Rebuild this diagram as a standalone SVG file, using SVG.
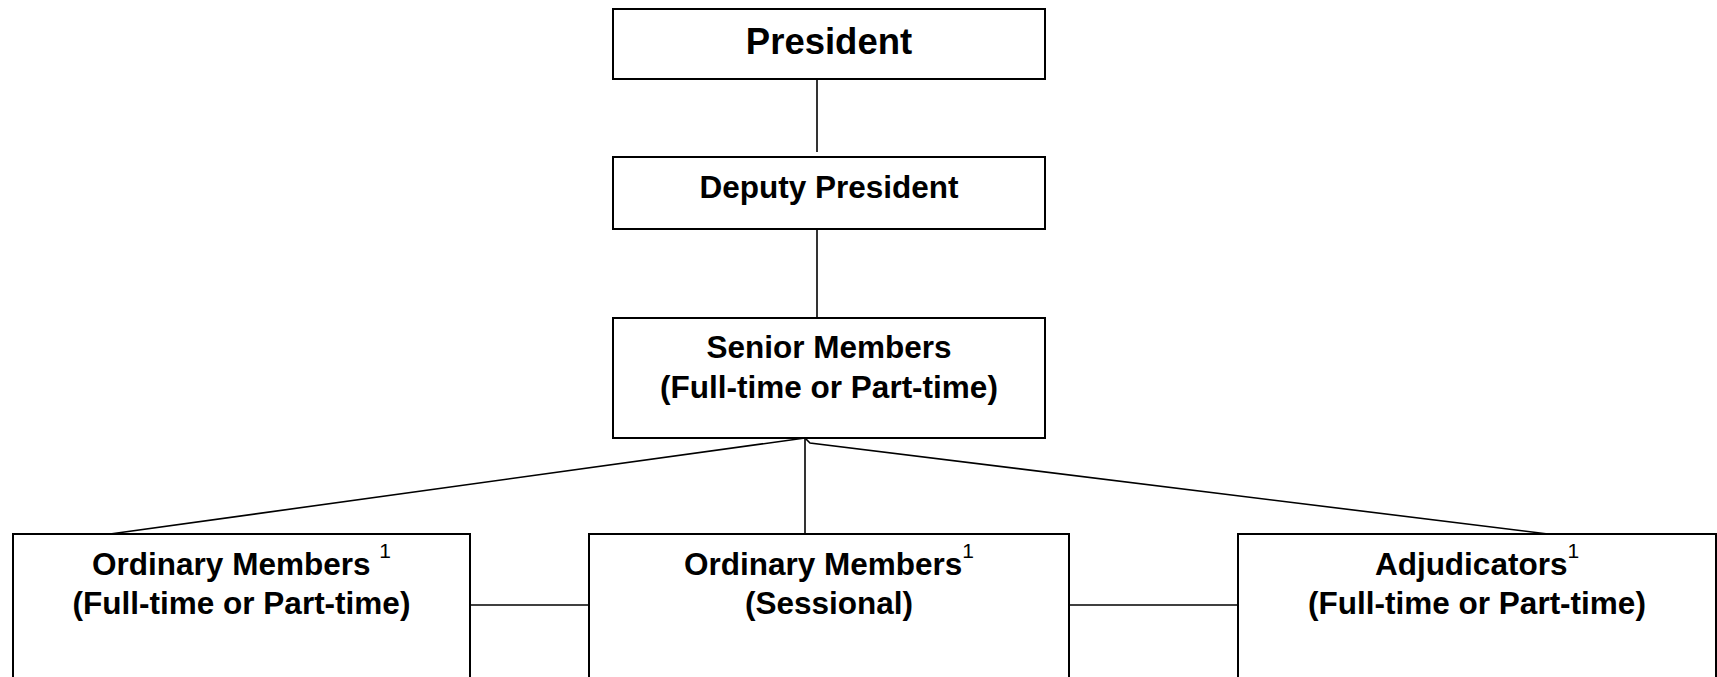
<svg xmlns="http://www.w3.org/2000/svg" width="1717" height="677" viewBox="0 0 1717 677">
<style>
.box{fill:#fff;stroke:#000;stroke-width:2}
.t{font-family:"Liberation Sans",Arial,sans-serif;font-weight:bold;font-size:31.5px;fill:#000;text-anchor:middle}
.sup{font-family:"Liberation Sans",Arial,sans-serif;font-weight:normal;font-size:21px}
.c{fill:none;stroke:#000;stroke-width:1.6}
</style>
<rect width="1717" height="677" fill="#fff"/>
<g id="connectors">
<line class="c" x1="817" y1="79" x2="817" y2="152"/>
<line class="c" x1="817" y1="229" x2="817" y2="318"/>
<line class="c" x1="805" y1="438" x2="110" y2="534"/>
<line class="c" x1="805" y1="438" x2="805" y2="534"/>
<polyline class="c" points="805,438 810,443 1548,534"/>
<line class="c" x1="470" y1="605" x2="589" y2="605"/>
<line class="c" x1="1069" y1="605" x2="1238" y2="605"/>
</g>
<g id="president">
<rect class="box" x="613" y="9" width="432" height="70"/>
<text class="t" x="829" y="54" style="font-size:36.5px">President</text>
</g>
<g id="deputy-president">
<rect class="box" x="613" y="157" width="432" height="72"/>
<text class="t" x="829" y="198">Deputy President</text>
</g>
<g id="senior-members">
<rect class="box" x="613" y="318" width="432" height="120"/>
<text class="t" x="829" y="358">Senior Members</text>
<text class="t" x="829" y="398">(Full-time or Part-time)</text>
</g>
<g id="ordinary-members-ft">
<rect class="box" x="13" y="534" width="457" height="170"/>
<text class="t" x="241.5" y="575">Ordinary Members <tspan class="sup" dy="-17">1</tspan></text>
<text class="t" x="241.5" y="614">(Full-time or Part-time)</text>
</g>
<g id="ordinary-members-sessional">
<rect class="box" x="589" y="534" width="480" height="170"/>
<text class="t" x="829" y="575">Ordinary Members<tspan class="sup" dy="-17">1</tspan></text>
<text class="t" x="829" y="614">(Sessional)</text>
</g>
<g id="adjudicators">
<rect class="box" x="1238" y="534" width="478" height="170"/>
<text class="t" x="1477" y="575">Adjudicators<tspan class="sup" dy="-17">1</tspan></text>
<text class="t" x="1477" y="614">(Full-time or Part-time)</text>
</g>
</svg>
